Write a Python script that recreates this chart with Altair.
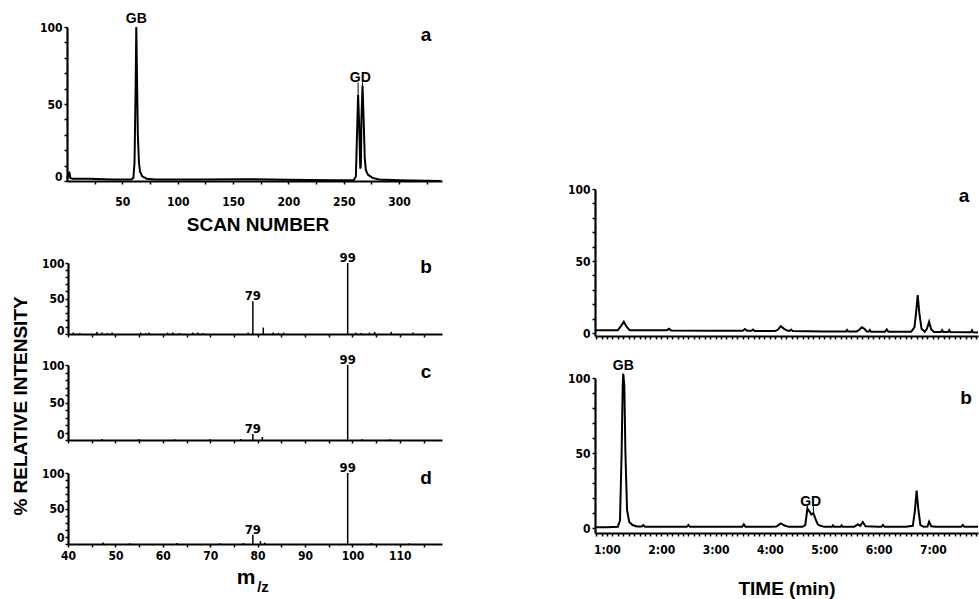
import json
import altair as alt
import pandas as pd

W, H = 979, 599
TICK_FONT = "'DejaVu Sans Condensed', 'Liberation Sans Narrow', sans-serif"
TITLE_FONT = "'Liberation Sans', Arial, sans-serif"

# ---------------- data ----------------
# Left a: total ion chromatogram vs scan number
scan_number = [0, 1, 2, 3, 5, 20, 40, 58, 60, 61, 62, 62.6, 63.2, 64, 65, 66, 68, 72, 80, 120,
               160, 200, 240, 259, 261, 262, 263, 264, 265, 265.5, 266, 267, 268, 269, 270, 272,
               276, 282, 300, 338]
tic_pct = [1.5, 3, 6, 2, 1.5, 1.5, 1, 1, 2, 12, 60, 100, 70, 30, 12, 6, 3, 1.5, 1, 1,
           1.2, 0.8, 0.5, 0.5, 3, 30, 56, 35, 8, 10, 40, 62, 40, 15, 7, 4,
           2, 1, 0.5, 0]
peak_names_a = ["GB", "GD"]
peak_scan_a = [62.6, 265]
peak_top_a = [100, 62]
gd_lead_scan = [263, 267]
gd_lead_top = [56, 62]

# Left b, c, d: mass spectra
mz_b = [41.1, 42.5, 46.1, 47.2, 48.3, 49.3, 55.3, 56.4, 57.1, 61.0, 62.1, 63.5, 66.3, 67.4,
        68.5, 78.0, 79.0, 81.2, 83.3, 84.4, 85.5, 99.0, 100.7, 101.8, 103.6, 104.7, 108.2, 112.8]
int_b = [2, 1.5, 3, 2, 1.5, 2, 2, 1.5, 2, 2, 2, 1.5, 2, 2,
         1.5, 2, 46, 9, 2, 1.5, 2, 100, 2, 1.5, 2, 3, 3, 2]
mz_c = [47.2, 55.0, 62.5, 70.0, 76.5, 79.0, 81.0, 99.0, 102.0, 108.0]
int_c = [1.5, 1, 1, 1, 1.5, 8, 4, 100, 1, 1]
mz_d = [47.4, 53.0, 63.0, 72.0, 77.0, 79.0, 80.6, 81.5, 99.0, 104.0, 112.0]
int_d = [2, 1, 1.5, 1, 1.5, 13, 4, 2, 100, 1.5, 1]
labelled_mz = [79.0, 99.0]

# Right a, b: chromatograms vs time (min)
time_a = [0.78, 1.20, 1.26, 1.31, 1.36, 1.42, 2.10, 2.14, 2.18, 3.0, 3.50, 3.54, 3.58, 3.66,
          3.69, 3.72, 4.10, 4.15, 4.20, 4.26, 4.32, 4.36, 4.39, 4.42, 5.0, 5.40, 5.42, 5.44,
          5.60, 5.65, 5.69, 5.74, 5.78, 5.82, 5.84, 5.86, 6.12, 6.15, 6.18, 6.60, 6.66, 6.69,
          6.72, 6.75, 6.79, 6.85, 6.89, 6.93, 6.97, 7.02, 7.15, 7.17, 7.19, 7.28, 7.30, 7.32,
          7.70, 7.72, 7.74, 7.83]
sig_a = [2.0, 2.0, 5.0, 7.9, 4.5, 2.0, 2.0, 3.0, 1.9, 1.6, 1.6, 2.8, 1.6, 1.6,
         2.5, 1.5, 1.5, 2.5, 4.9, 3.0, 1.8, 1.5, 2.5, 1.4, 1.2, 1.2, 2.2, 1.2,
         1.2, 2.5, 4.0, 3.0, 1.2, 1.2, 2.2, 1.0, 1.0, 2.5, 1.0, 1.0, 4.0, 14.0,
         26.4, 14.0, 3.0, 1.0, 3.0, 7.9, 2.5, 0.8, 0.8, 2.0, 0.8, 0.8, 2.0, 0.8,
         0.6, 2.0, 0.6, 0.5]
time_b = [0.78, 1.0, 1.2, 1.24, 1.27, 1.29, 1.30, 1.32, 1.34, 1.37, 1.41, 1.47, 1.55, 1.64,
          1.67, 1.70, 2.0, 2.47, 2.50, 2.53, 3.0, 3.49, 3.52, 3.55, 4.0, 4.12, 4.2, 4.28,
          4.35, 4.6, 4.65, 4.69, 4.73, 4.76, 4.80, 4.84, 4.88, 4.93, 5.0, 5.14, 5.16, 5.18,
          5.30, 5.32, 5.34, 5.55, 5.62, 5.66, 5.71, 5.76, 6.0, 6.05, 6.08, 6.11, 6.5, 6.63,
          6.67, 6.70, 6.73, 6.77, 6.83, 6.9, 6.93, 6.97, 7.05, 7.52, 7.55, 7.58, 7.83]
sig_b = [0.5, 0.5, 0.8, 5, 50, 95, 103, 95, 50, 12, 4, 2, 1, 1,
         2, 0.8, 0.8, 0.8, 2, 0.8, 0.8, 0.8, 2.5, 0.8, 0.8, 1, 3.1, 1.5,
         0.8, 0.8, 2, 13, 11, 9, 10, 6, 2.5, 1.5, 0.8, 0.8, 1.8, 0.8,
         0.8, 1.8, 0.8, 0.8, 2.5, 1.5, 4, 1.2, 0.8, 0.8, 2, 0.8, 0.8, 1.5,
         12, 25, 13, 2, 0.8, 1, 4.2, 1.2, 0.8, 0.8, 2, 0.8, 0.8]
peak_names_b = ["GB", "GD"]
peak_time_b = [1.30, 4.75]
peak_top_b = [103, 13]
gd_lead_time = [4.69, 4.80]
gd_lead_top_b = [13, 10]

# axis ticks
scan_ticks = list(range(25, 326, 25))
scan_labels = [50, 100, 150, 200, 250, 300]
mz_ticks = list(range(40, 119, 5))
mz_labels = list(range(40, 111, 10))
pct_ticks = list(range(0, 101, 10))
pct_labels = [0, 50, 100]
time_ticks = [round(0.8 + 0.1 * i, 1) for i in range(71)]
time_labels = [1, 2, 3, 4, 5, 6, 7]

# ---------------- helpers ----------------
COMMON = dict(title=None, grid=False, domainColor="black", domainWidth=2.2, tickColor="black",
              tickWidth=1.5, tickSize=3, labelFont=TICK_FONT, labelFontSize=12,
              labelFontWeight="bold", labelColor="black", labelOverlap=False,
              labelFlush=False, labelBound=False)


def x_axis(ticks, shown, axis_y, pad, labels=True, text="datum.label"):
    expr = "indexof(%s, datum.value) >= 0 ? %s : ''" % (json.dumps(shown), text)
    return alt.Axis(orient="bottom", offset=axis_y - H, values=ticks, labels=labels,
                    labelExpr=expr, labelPadding=pad, **COMMON)


def y_axis(axis_x, pad=1, zero_lift=0):
    expr = "indexof(%s, datum.value) >= 0 ? datum.label : ''" % json.dumps(pct_labels)
    extra = {}
    if zero_lift:
        extra["labelOffset"] = {"condition": {"test": "datum.value == 0", "value": -zero_lift},
                                "value": 0}
    return alt.Axis(orient="left", offset=-axis_x, values=pct_ticks, labelExpr=expr,
                    labelPadding=pad, **COMMON, **extra)


def sc(domain, rng):
    return alt.Scale(domain=domain, range=rng, nice=False, zero=False)


def text_at(text, x, y, size, font=TITLE_FONT, angle=0, align="center"):
    return alt.Chart(pd.DataFrame({"t": [text]})).mark_text(
        font=font, fontSize=size, fontWeight="bold", angle=angle, align=align,
        baseline="middle", color="black").encode(text="t:N", x=alt.value(x), y=alt.value(y))


def spectrum(mz, inten, y_rng, axis_y, show_labels, lift):
    df = pd.DataFrame({"mz": mz, "i": inten})
    df["base"] = 0
    xs = sc([40, 118.9], [68, 442])
    ys = sc([0, 100], y_rng)
    sticks = alt.Chart(df).mark_rule(color="black", strokeWidth=1.5).encode(
        x=alt.X("mz:Q", scale=xs, axis=x_axis(mz_ticks, mz_labels, axis_y, 3, labels=show_labels)),
        y=alt.Y("i:Q", scale=ys, axis=y_axis(68, 1, lift)),
        y2="base:Q")
    lab = df[df["mz"].isin(labelled_mz)].copy()
    lab["t"] = lab["mz"].round().astype(int).astype(str)
    txt = alt.Chart(lab).mark_text(font=TICK_FONT, fontSize=13, fontWeight="bold",
                                   baseline="alphabetic", dy=-1, color="black").encode(
        x=alt.X("mz:Q", scale=xs, axis=None), y=alt.Y("i:Q", scale=ys, axis=None), text="t:N")
    return [sticks, txt]


# ---------------- left a ----------------
xs_a = sc([0, 338.8], [67, 442])
ys_a = sc([0, 100], [181, 27])
tic_df = pd.DataFrame({"scan": scan_number, "pct": tic_pct})
left_a = [
    alt.Chart(tic_df).mark_line(color="black", strokeWidth=2).encode(
        x=alt.X("scan:Q", scale=xs_a, axis=x_axis(scan_ticks, scan_labels, 181, 12)),
        y=alt.Y("pct:Q", scale=ys_a, axis=y_axis(67, 2, 5))),
    alt.Chart(pd.DataFrame({"x": peak_scan_a, "y": peak_top_a, "label": peak_names_a})).mark_text(
        font=TITLE_FONT, fontSize=14, fontWeight="bold", baseline="alphabetic", dy=-4,
        color="black").encode(x=alt.X("x:Q", scale=xs_a, axis=None),
                              y=alt.Y("y:Q", scale=ys_a, axis=None), text="label:N"),
    alt.Chart(pd.DataFrame({"x": gd_lead_scan, "y": gd_lead_top,
                            "y2": [max(gd_lead_top) + 2] * 2})).mark_rule(
        color="black", strokeWidth=1).encode(x=alt.X("x:Q", scale=xs_a, axis=None),
                                             y=alt.Y("y:Q", scale=ys_a, axis=None), y2="y2:Q"),
]

left_b = spectrum(mz_b, int_b, [334, 263], 334, False, 4)
left_c = spectrum(mz_c, int_c, [440, 365], 440, False, 6)
left_d = spectrum(mz_d, int_d, [544, 473], 544, True, 7)

# ---------------- right a / b ----------------
xs_t = sc([0.78, 7.83], [595, 978])
ys_ra = sc([-2, 100], [336, 189])
ys_rb = sc([-3.3, 100], [533, 378])
time_text = "datum.value + ':00'"
right_a = [alt.Chart(pd.DataFrame({"t": time_a, "s": sig_a})).mark_line(
    color="black", strokeWidth=2).encode(
    x=alt.X("t:Q", scale=xs_t, axis=x_axis(time_ticks, time_labels, 336, 8, labels=False)),
    y=alt.Y("s:Q", scale=ys_ra, axis=y_axis(595, 2)))]

right_b = [
    alt.Chart(pd.DataFrame({"t": time_b, "s": sig_b})).mark_line(
        color="black", strokeWidth=2).encode(
        x=alt.X("t:Q", scale=xs_t, axis=x_axis(time_ticks, time_labels, 533, 8, text=time_text)),
        y=alt.Y("s:Q", scale=ys_rb, axis=y_axis(595, 2))),
    alt.Chart(pd.DataFrame({"x": peak_time_b, "y": peak_top_b, "label": peak_names_b})).mark_text(
        font=TITLE_FONT, fontSize=14, fontWeight="bold", baseline="alphabetic",
        dy=-3, color="black").encode(x=alt.X("x:Q", scale=xs_t, axis=None),
                                     y=alt.Y("y:Q", scale=ys_rb, axis=None), text="label:N"),
    alt.Chart(pd.DataFrame({"x": gd_lead_time, "y": gd_lead_top_b,
                            "y2": [max(gd_lead_top_b) + 2] * 2})).mark_rule(
        color="black", strokeWidth=1).encode(x=alt.X("x:Q", scale=xs_t, axis=None),
                                             y=alt.Y("y:Q", scale=ys_rb, axis=None), y2="y2:Q"),
]

# ---------------- titles and panel letters ----------------
texts = [
    text_at("SCAN NUMBER", 258, 225, 19),
    text_at("% RELATIVE INTENSITY", 21, 406, 19, angle=270),
    text_at("m", 246, 578, 21),
    text_at("/z", 263, 587, 15),
    text_at("TIME  (min)", 787, 589, 19),
    text_at("a", 426, 35, 19),
    text_at("b", 426, 267, 19),
    text_at("c", 426, 372, 19),
    text_at("d", 426, 478, 19),
    text_at("a", 964, 196, 19),
    text_at("b", 966, 398, 19),
]

layers = left_a + left_b + left_c + left_d + right_a + right_b + texts
chart = alt.layer(*layers).resolve_scale(
    x="independent", y="independent").resolve_axis(x="independent", y="independent").properties(
    width=W, height=H, autosize="none", padding=0).configure_view(stroke=None)

chart.save("out.html", embed_options={"renderer": "svg", "actions": False})
